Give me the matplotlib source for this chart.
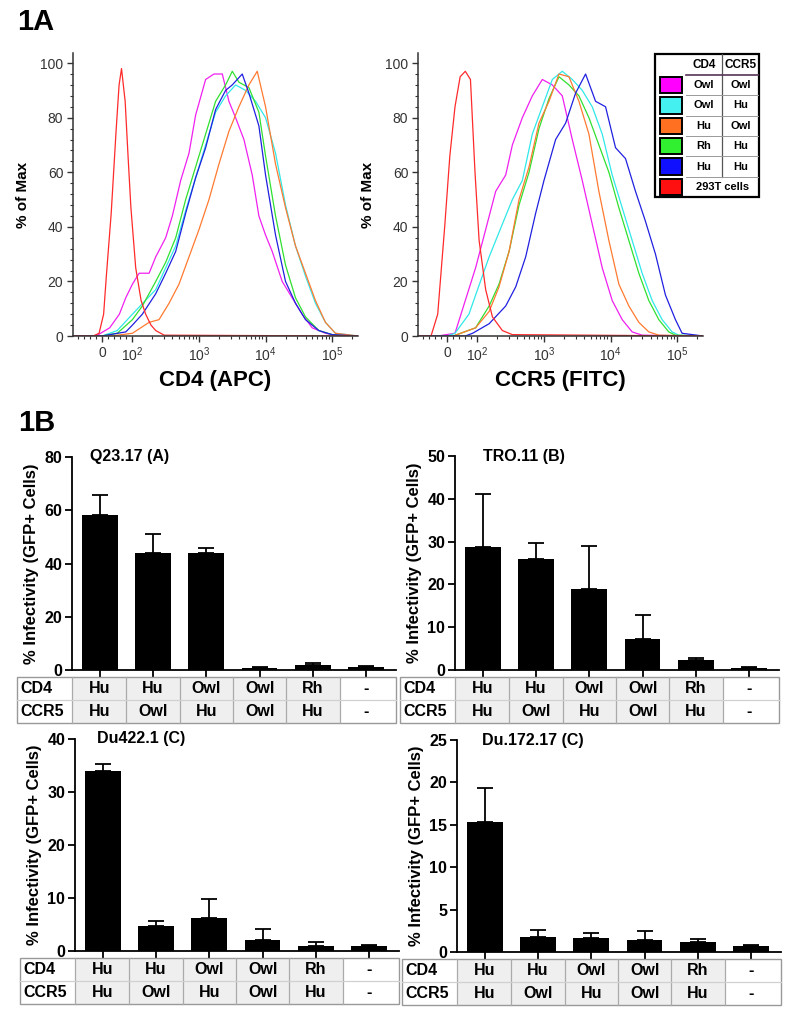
import numpy as np
import matplotlib.pyplot as plt
from matplotlib.patches import Rectangle
from matplotlib.ticker import FixedLocator, MultipleLocator

plt.rcParams['font.family'] = ['Liberation Sans', 'DejaVu Sans']

# ---- 1A: flow histograms (% of max vs fluorescence) ----
# CD4 (APC)
cd4_red_x = [-96, -30, -10, 5, 14, 30, 46, 56, 64, 76, 86, 95, 112, 135, 158, 190, 224, 300, 2.45e5]
cd4_red_y = [0, 0, 1, 8, 22, 45, 75, 92, 98, 86, 65, 47, 25, 13, 8, 4, 2, 0.3, 0]
cd4_mag_x = [-96, -20, 25, 57, 78, 100, 126, 178, 224, 316, 398, 531, 708, 891, 1259, 1679, 2239,
             2818, 3548, 4732, 6310, 7943, 10000, 12589, 17783, 25119, 35481, 50119, 79433, 1e5, 2.45e5]
cd4_mag_y = [0, 0, 3, 8, 14, 19, 23, 23, 29, 36, 44, 57, 67, 81, 94, 96, 96,
             86, 80, 72, 59, 44, 37, 31, 20, 14, 8, 3, 1, 0.5, 0]
cd4_blue_x = [-96, 0, 25, 78, 100, 141, 224, 316, 447, 631, 891, 1259, 1778, 2512, 3162, 4467,
              5623, 7943, 10000, 14125, 19953, 28184, 39811, 63096, 1e5, 2.45e5]
cd4_blue_y = [0, 0, 0.5, 1.5, 4, 8, 15.5, 23, 31, 45, 58, 69, 83, 90, 92, 96,
              89, 77, 59, 37, 20, 12, 6, 2, 0.5, 0]
cd4_green_x = [-96, 0, 50, 100, 141, 224, 316, 447, 631, 891, 1259, 1778, 2512, 3162, 3981,
               5623, 7943, 10000, 14125, 19953, 28184, 39811, 63096, 1e5, 2.45e5]
cd4_green_y = [0, 0, 1, 6, 11, 20, 27, 36, 50, 62, 74, 86, 92, 97, 93,
               91, 82, 66, 44, 26, 14, 7, 2, 0.5, 0]
cd4_cyan_x = [-96, 0, 50, 100, 224, 316, 447, 631, 891, 1259, 1778, 2512, 3548, 5012, 7079,
              10000, 14125, 19953, 28184, 39811, 56234, 79433, 112202, 2.45e5]
cd4_cyan_y = [0, 0, 2, 8, 17, 25, 33, 46, 58, 70, 82, 88, 92, 90, 86,
              80, 67, 48, 33, 22, 12, 5, 1, 0]
cd4_orange_x = [-96, 30, 100, 178, 251, 355, 501, 708, 1000, 1413, 1995, 2818, 3981, 5623, 7499,
                10000, 14125, 19953, 28184, 39811, 56234, 79433, 112202, 2.45e5]
cd4_orange_y = [0, 0, 1, 5, 6, 12, 19, 29, 39, 50, 63, 75, 84, 92, 97,
                84, 63, 47, 33, 23, 13, 5, 1, 0]

# CCR5 (FITC)
ccr5_red_x = [-96, -53, -31, -8, 9, 26, 43, 60, 77, 92, 106, 133, 168, 237, 335, 2.45e5]
ccr5_red_y = [0, 0, 8, 40, 66, 84, 95, 97, 94, 60, 35, 17, 7, 2, 0.5, 0]
ccr5_mag_x = [-96, -31, 26, 60, 94, 133, 188, 266, 335, 473, 668, 944, 1334, 1884, 2661, 3758,
              5309, 7499, 10593, 14962, 21135, 29854, 2.45e5]
ccr5_mag_y = [0, 0, 1, 13, 25, 39, 53, 59, 70, 80, 88, 94, 92, 88, 72, 57,
              41, 25, 13, 6, 1.5, 0.3, 0]
ccr5_cyan_x = [-96, 0, 26, 72, 94, 150, 237, 335, 473, 668, 944, 1334, 1884, 2661, 3758, 5309,
               7499, 10593, 14962, 21135, 29854, 42170, 59566, 84140, 105925, 2.45e5]
ccr5_cyan_y = [0, 0, 1, 8, 15, 29, 41, 50, 57, 74, 84, 94, 97, 94, 90, 84,
               74, 59, 47, 35, 23, 13, 6, 1.5, 0.3, 0]
ccr5_orange_x = [-96, 20, 94, 150, 211, 299, 422, 596, 841, 1189, 1679, 2371, 3350, 4732, 6683,
                 9441, 13335, 18836, 26607, 37584, 53088, 2.45e5]
ccr5_orange_y = [0, 0, 3, 9, 18, 31, 50, 62, 78, 86, 96, 95, 86, 74, 53,
                 35, 19, 11, 5, 1.5, 0.3, 0]
ccr5_green_x = [-96, 20, 94, 150, 211, 299, 422, 596, 841, 1189, 1679, 2371, 3350, 4732, 6683,
                9441, 13335, 18836, 26607, 37584, 53088, 74989, 94406, 2.45e5]
ccr5_green_y = [0, 0, 3, 11, 19, 31, 48, 60, 76, 87, 95, 92, 88, 80, 70,
                60, 47, 35, 23, 13, 6, 1.5, 0.3, 0]
ccr5_blue_x = [-96, 60, 84, 150, 266, 376, 531, 750, 1000, 1496, 2113, 2985, 4217, 5957, 8414,
               11885, 16788, 23714, 33497, 47315, 66834, 94406, 118850, 2.45e5]
ccr5_blue_y = [0, 0, 1, 4.5, 11, 18, 29, 45, 57, 72, 78, 89, 96, 86, 84,
               69, 65, 53, 42, 30, 15, 6, 1, 0]

legend_cd4 = ['Owl', 'Owl', 'Hu', 'Rh', 'Hu']
legend_ccr5 = ['Owl', 'Hu', 'Owl', 'Hu', 'Hu']
legend_last = '293T cells'

# ---- 1B: infectivity bars ----
cd4_row = ['Hu', 'Hu', 'Owl', 'Owl', 'Rh', '-']
ccr5_row = ['Hu', 'Owl', 'Hu', 'Owl', 'Hu', '-']

q23_mean = [58.4, 44.0, 44.0, 0.9, 1.8, 1.2]
q23_err = [7.5, 6.9, 1.9, 0.3, 1.0, 0.2]
tro_mean = [28.7, 25.9, 19.0, 7.2, 2.3, 0.55]
tro_err = [12.5, 3.8, 10.0, 5.7, 0.4, 0.25]
du422_mean = [34.0, 4.8, 6.3, 2.0, 1.0, 1.0]
du422_err = [1.3, 0.9, 3.6, 2.1, 0.7, 0.15]
du172_mean = [15.3, 1.8, 1.6, 1.4, 1.2, 0.7]
du172_err = [4.0, 0.8, 0.6, 1.1, 0.3, 0.15]

W, H = 800, 1019
fig = plt.figure(figsize=(W / 100, H / 100), dpi=100)


def px_axes(left, top, right, bottom):
    return fig.add_axes([left / W, 1 - bottom / H, (right - left) / W, (bottom - top) / H])


MAG, CYAN, ORANGE, GREEN, BLUE, RED = '#f020f0', '#30e8e8', '#ff7a30', '#30e030', '#2020e0', '#ff2a2a'


def draw_hist(ax, curves, xlabel):
    for xs, ys, c in curves:
        ax.plot(xs, ys, color=c, lw=0.9)
    ax.set_xscale('symlog', linthresh=100, linscale=0.41)
    ax.set_xlim(-96, 2.45e5)
    ax.set_ylim(0, 103.7)
    ax.set_xticks([0, 1e2, 1e3, 1e4, 1e5])
    ax.set_xticklabels(['0', r'$\mathregular{10^2}$', r'$\mathregular{10^3}$',
                        r'$\mathregular{10^4}$', r'$\mathregular{10^5}$'])
    minors = [-80, -60, -40, -20, 20, 40, 60, 80]
    minors += [k * 10 ** d for d in range(2, 5) for k in range(2, 10)] + [2e5]
    ax.xaxis.set_minor_locator(FixedLocator(minors))
    ax.set_yticks(range(0, 101, 20))
    ax.yaxis.set_minor_locator(MultipleLocator(4))
    for s in ['top', 'right']:
        ax.spines[s].set_visible(False)
    for s in ['left', 'bottom']:
        ax.spines[s].set_color('#333333')
        ax.spines[s].set_linewidth(1.1)
    ax.tick_params(which='major', length=4, width=1, colors='#333333', labelsize=10, pad=3)
    ax.tick_params(which='minor', length=2.5, width=0.8, colors='#333333')
    ax.set_ylabel('% of Max', fontsize=11, fontweight='bold', labelpad=7)
    ax.set_xlabel(xlabel, fontsize=16, fontweight='bold', labelpad=4)


ax1 = px_axes(73, 53, 358, 336)
draw_hist(ax1, [(cd4_mag_x, cd4_mag_y, MAG), (cd4_cyan_x, cd4_cyan_y, CYAN),
                (cd4_green_x, cd4_green_y, GREEN), (cd4_orange_x, cd4_orange_y, ORANGE),
                (cd4_blue_x, cd4_blue_y, BLUE), (cd4_red_x, cd4_red_y, RED)], 'CD4 (APC)')
ax2 = px_axes(418, 53, 703, 336)
draw_hist(ax2, [(ccr5_mag_x, ccr5_mag_y, MAG), (ccr5_cyan_x, ccr5_cyan_y, CYAN),
                (ccr5_green_x, ccr5_green_y, GREEN), (ccr5_orange_x, ccr5_orange_y, ORANGE),
                (ccr5_blue_x, ccr5_blue_y, BLUE), (ccr5_red_x, ccr5_red_y, RED)], 'CCR5 (FITC)')

# legend table for the histograms
lax = px_axes(655, 54, 759, 197)
lax.set_xlim(0, 104)
lax.set_ylim(143, 0)
lax.axis('off')
lax.add_patch(Rectangle((0, 0), 104, 143, fill=False, ec='black', lw=1.6, clip_on=False))
row_h = (143 - 21) / 6
lax.text(49, 11, 'CD4', ha='center', va='center', fontsize=8.5, fontweight='bold')
lax.text(85.5, 11, 'CCR5', ha='center', va='center', fontsize=8.5, fontweight='bold')
lax.plot([67, 67], [0, 21 + 5 * row_h], color='#555555', lw=0.9)
lax.plot([31, 104], [21, 21], color='#553355', lw=1.2)
sq_colors = ['#ff00ff', '#44f0f0', '#ff7020', '#30f030', '#1010ff', '#ff1010']
for k in range(6):
    y0 = 21 + k * row_h
    lax.add_patch(Rectangle((5, y0 + 2), 22, row_h - 4, fc=sq_colors[k], ec='black', lw=1.4))
    if k > 0:
        lax.plot([31, 104], [y0, y0], color='#999999', lw=0.7)
    yc = y0 + row_h / 2
    if k < 5:
        lax.text(49, yc, legend_cd4[k], ha='center', va='center', fontsize=8, fontweight='bold')
        lax.text(85.5, yc, legend_ccr5[k], ha='center', va='center', fontsize=8, fontweight='bold')
    else:
        lax.text(67.5, yc, legend_last, ha='center', va='center', fontsize=8, fontweight='bold')

# ---- bar panels ----
panels = [
    ('Q23.17 (A)', q23_mean, q23_err, range(0, 81, 20), 72, 457, 670, 18),
    ('TRO.11 (B)', tro_mean, tro_err, range(0, 51, 10), 455, 456, 670, 28),
    ('Du422.1 (C)', du422_mean, du422_err, range(0, 41, 10), 75, 739, 951, 22),
    ('Du.172.17 (C)', du172_mean, du172_err, range(0, 26, 5), 457, 740, 952, 25),
]
unit_px = 53.3
xlo, xhi = -0.52, 5.55
for title, means, errs, yticks, left, top, zero, toff in panels:
    right = left + (xhi - xlo) * unit_px
    ax = px_axes(left, top, right, zero)
    x = np.arange(len(means))
    ax.bar(x, means, width=0.67, color='black', zorder=2)
    ax.errorbar(x, means, yerr=[np.zeros(len(errs)), errs], fmt='none', ecolor='black',
                elinewidth=1.3, capsize=6, capthick=1.3, zorder=3)
    ax.set_xlim(xlo, xhi)
    ax.set_ylim(0, max(yticks))
    ax.set_yticks(list(yticks))
    ax.set_xticks(x)
    ax.set_xticklabels([])
    for s in ['top', 'right']:
        ax.spines[s].set_visible(False)
    for s in ['left', 'bottom']:
        ax.spines[s].set_linewidth(1.3)
    ax.tick_params(axis='both', length=5, width=1.3, labelsize=11.5, pad=2)
    for lab in ax.get_yticklabels():
        lab.set_fontweight('bold')
    ax.set_ylabel('% Infectivity (GFP+ Cells)', fontsize=12, fontweight='bold', labelpad=4)
    ax.text(toff / ((xhi - xlo) * unit_px), 1.0, title, transform=ax.transAxes,
            ha='left', va='center', fontsize=11.5, fontweight='bold')

    # table under the bars
    tax = px_axes(left - 1.03 * unit_px, zero + 7, right, zero + 53)
    tax.set_xlim(xlo - 1.03, xhi)
    tax.set_ylim(2, 0)
    tax.axis('off')
    edges = [xlo - 1.03, xlo, 0.5, 1.5, 2.5, 3.5, 4.5, xhi]
    for j in range(len(edges) - 1):
        fc = '#efefef' if 1 <= j <= 5 else 'white'
        tax.add_patch(Rectangle((edges[j], 0), edges[j + 1] - edges[j], 2, fc=fc, ec='none',
                                clip_on=False))
    for e in edges[1:-1]:
        tax.plot([e, e], [0, 2], color='#aaaaaa', lw=0.9, clip_on=False)
    tax.plot([edges[0], edges[-1]], [1, 1], color='#d0d0d0', lw=0.9, clip_on=False)
    tax.add_patch(Rectangle((edges[0], 0), edges[-1] - edges[0], 2, fill=False, ec='#999999',
                            lw=1.0, clip_on=False))
    tax.text(edges[0] + 0.07, 0.5, 'CD4', ha='left', va='center', fontsize=11.5, fontweight='bold')
    tax.text(edges[0] + 0.07, 1.5, 'CCR5', ha='left', va='center', fontsize=11.5, fontweight='bold')
    for j in range(len(cd4_row)):
        tax.text(j, 0.5, cd4_row[j], ha='center', va='center', fontsize=11.5, fontweight='bold')
        tax.text(j, 1.5, ccr5_row[j], ha='center', va='center', fontsize=11.5, fontweight='bold')

fig.text(17 / W, 1 - 22 / H, '1A', fontsize=21, fontweight='bold', va='center')
fig.text(18 / W, 1 - 423 / H, '1B', fontsize=21, fontweight='bold', va='center')

fig.savefig('out.png', dpi=100)
